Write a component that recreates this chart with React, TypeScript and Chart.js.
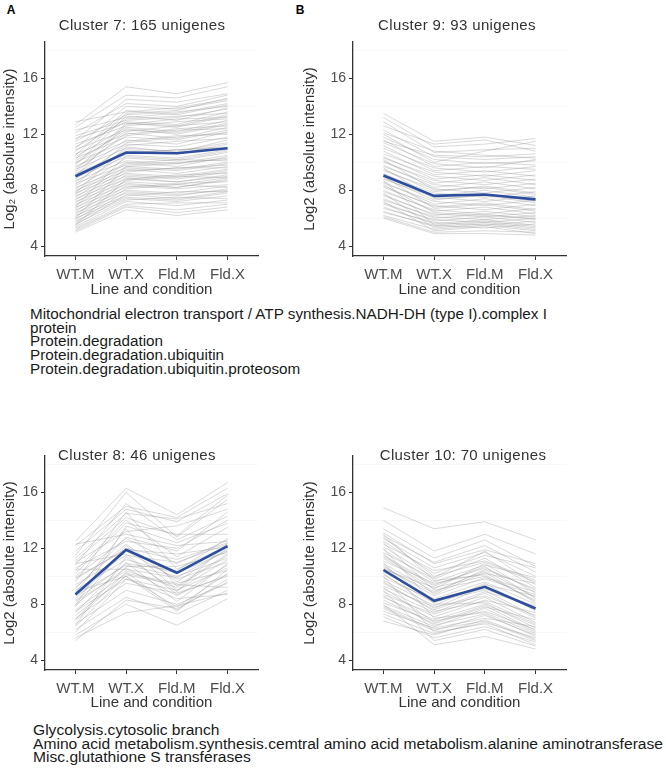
import React, { useEffect, useRef } from "react";
import { Chart, registerables } from "chart.js";

Chart.register(...registerables);

const FONT = '"Liberation Sans", Arial, sans-serif';

const categories = ["WT.M", "WT.X", "Fld.M", "Fld.X"];

const yTicksMajor = [4, 8, 12, 16];
const yTicksAll = [4, 6, 8, 10, 12, 14, 16, 18];

// Cluster 7 (panel A)
const cluster7Mean = [9.0, 10.7, 10.65, 11.0];
const cluster7Genes = [
  [12.9, 13.6, 13.9, 14.5], [12.7, 15.4, 14.9, 15.7], [12.5, 14.8, 14.6, 15.4], [12.3, 13.2, 13.5, 14.2],
  [12.1, 14.2, 14.0, 14.8], [11.9, 13.0, 13.2, 13.8], [11.7, 12.8, 12.5, 13.3], [11.5, 13.4, 13.6, 14.0],
  [11.3, 12.6, 12.9, 13.1], [11.1, 12.9, 12.7, 13.6], [10.9, 12.3, 12.1, 12.8], [10.8, 13.1, 13.3, 13.5],
  [10.6, 12.0, 12.4, 12.6], [10.4, 12.5, 12.2, 13.0], [10.3, 11.8, 11.6, 12.3], [10.1, 12.2, 12.6, 12.9],
  [10.0, 11.5, 11.9, 12.0], [9.9, 12.4, 12.0, 12.7], [9.7, 11.3, 11.1, 11.8], [9.6, 11.9, 12.3, 12.4],
  [9.5, 11.0, 10.8, 11.4], [9.3, 12.1, 11.7, 12.5], [9.2, 10.7, 10.9, 11.1], [9.1, 11.6, 11.3, 12.2],
  [8.9, 10.4, 10.2, 10.8], [8.8, 11.2, 11.5, 11.7], [8.7, 10.1, 9.9, 10.5], [8.6, 10.9, 10.6, 11.3],
  [8.5, 9.8, 10.0, 10.2], [8.3, 10.6, 10.9, 11.0], [8.2, 9.6, 9.4, 9.9], [8.1, 10.3, 10.1, 10.7],
  [8.0, 9.4, 9.6, 9.8], [7.9, 10.0, 9.7, 10.4], [7.8, 9.2, 9.0, 9.5], [7.7, 9.9, 10.2, 10.1],
  [7.6, 9.0, 8.8, 9.3], [7.5, 9.7, 9.5, 10.0], [7.4, 8.8, 9.1, 9.2], [7.3, 9.5, 9.2, 9.7],
  [7.2, 8.6, 8.4, 8.9], [7.1, 9.3, 9.6, 9.6], [7.0, 8.4, 8.2, 8.7], [6.9, 9.1, 8.9, 9.4],
  [6.8, 8.2, 8.5, 8.6], [6.7, 8.9, 8.6, 9.0], [6.6, 8.0, 7.8, 8.3], [6.5, 8.7, 9.0, 8.9],
  [6.4, 7.8, 7.6, 8.1], [6.3, 8.5, 8.2, 8.8], [6.2, 7.6, 7.9, 7.9], [6.1, 8.3, 8.1, 8.4],
  [6.0, 7.5, 7.3, 7.8], [5.9, 8.1, 8.4, 8.2], [5.8, 7.4, 7.2, 7.6], [5.7, 7.9, 7.7, 8.0],
  [5.6, 7.3, 7.5, 7.4], [5.5, 7.7, 7.4, 7.9], [5.4, 7.2, 6.9, 7.3], [5.3, 7.0, 7.1, 7.1],
  [5.2, 6.9, 6.6, 7.0], [5.1, 6.8, 6.4, 6.8], [5.0, 6.6, 6.2, 6.6], [11.0, 14.0, 13.8, 14.4],
  [10.5, 13.7, 13.4, 14.1], [9.8, 13.3, 13.0, 13.9], [9.0, 12.7, 13.1, 13.2], [8.4, 11.4, 11.8, 12.1],
  [7.8, 11.1, 10.7, 11.6], [6.8, 10.5, 10.3, 10.9], [6.0, 9.7, 9.9, 10.3], [5.5, 8.8, 8.6, 9.1],
  [10.2, 13.5, 13.7, 14.6], [9.4, 12.8, 12.6, 13.4], [11.6, 14.5, 14.3, 14.9],
];

// Cluster 9 (panel B)
const cluster9Mean = [9.05, 7.6, 7.7, 7.35];
const cluster9Genes = [
  [13.5, 11.5, 11.8, 11.2], [13.2, 11.1, 11.3, 11.7], [12.9, 10.7, 10.9, 11.0], [12.6, 11.3, 11.6, 10.8],
  [12.3, 10.4, 10.2, 10.4], [12.0, 10.0, 10.8, 11.5], [11.8, 10.2, 9.9, 10.1], [11.6, 9.7, 10.0, 9.8],
  [11.4, 9.9, 9.6, 10.2], [11.2, 9.4, 9.7, 9.5], [11.0, 9.6, 9.3, 9.7], [10.8, 9.1, 9.4, 9.0],
  [10.6, 9.3, 9.0, 9.4], [10.4, 8.8, 9.1, 8.7], [10.3, 9.0, 8.7, 9.1], [10.1, 8.5, 8.9, 8.4],
  [10.0, 8.7, 8.4, 8.8], [9.8, 8.2, 8.6, 8.1], [9.7, 8.4, 8.1, 8.5], [9.5, 7.9, 8.3, 7.8],
  [9.4, 8.1, 7.8, 8.2], [9.2, 7.6, 8.0, 7.5], [9.1, 7.8, 7.5, 7.9], [8.9, 7.3, 7.7, 7.2],
  [8.8, 7.5, 7.2, 7.6], [8.6, 7.0, 7.4, 6.9], [8.5, 7.2, 6.9, 7.3], [8.3, 6.8, 7.1, 6.6],
  [8.2, 6.9, 6.6, 7.0], [8.0, 6.5, 6.8, 6.3], [7.9, 6.6, 6.3, 6.7], [7.7, 6.2, 6.5, 6.1],
  [7.6, 6.3, 6.1, 6.4], [7.4, 6.0, 6.3, 5.9], [7.3, 6.1, 5.9, 6.2], [7.1, 5.8, 6.1, 5.7],
  [7.0, 5.9, 5.7, 6.0], [6.8, 5.6, 5.9, 5.5], [6.7, 5.7, 5.5, 5.8], [6.5, 5.4, 5.7, 5.3],
  [6.4, 5.5, 5.3, 5.6], [6.2, 5.2, 5.5, 5.1], [6.1, 5.0, 5.1, 5.0], [6.0, 4.9, 4.9, 4.8],
  [10.2, 8.0, 8.2, 7.7], [9.6, 7.4, 7.6, 7.1], [9.0, 6.7, 7.0, 6.5], [8.4, 6.4, 6.2, 6.0],
  [11.5, 10.5, 10.4, 10.6], [12.1, 10.8, 10.5, 10.3], [7.8, 5.3, 5.6, 5.2], [7.2, 5.1, 5.4, 4.9],
  [8.7, 5.5, 5.8, 5.4],
];

// Cluster 8 (panel C)
const cluster8Mean = [8.7, 11.9, 10.25, 12.15];
const cluster8Genes = [
  [12.5, 16.3, 14.4, 16.7], [12.2, 15.0, 14.2, 16.3], [11.8, 14.8, 13.9, 15.9], [11.5, 16.0, 12.8, 15.5],
  [11.3, 14.5, 14.1, 15.2], [11.0, 13.2, 13.6, 14.8], [10.8, 15.2, 12.6, 14.3], [10.6, 12.5, 12.0, 14.0],
  [10.4, 14.0, 11.4, 13.5], [10.2, 13.8, 13.0, 13.0], [10.0, 12.7, 10.9, 12.6], [9.8, 12.0, 11.2, 12.4],
  [9.6, 14.6, 10.5, 12.2], [9.4, 11.5, 11.0, 12.3], [9.2, 12.3, 9.6, 12.0], [9.0, 11.2, 10.2, 11.8],
  [8.8, 13.4, 9.3, 11.6], [8.6, 10.8, 10.0, 11.3], [8.4, 11.8, 9.8, 11.0], [8.2, 10.4, 9.2, 11.5],
  [8.0, 10.6, 8.6, 10.8], [7.8, 12.2, 9.0, 10.6], [7.6, 10.2, 9.5, 10.4], [7.4, 11.0, 8.2, 10.9],
  [7.2, 10.0, 7.8, 10.2], [7.0, 9.5, 8.8, 10.0], [6.8, 10.3, 7.6, 9.8], [6.6, 9.0, 8.0, 9.5],
  [6.4, 10.1, 9.4, 9.2], [6.2, 8.5, 7.3, 9.0], [6.0, 9.8, 8.4, 8.7], [5.8, 8.0, 6.5, 8.4],
  [5.6, 7.4, 7.9, 8.8], [5.4, 8.3, 7.7, 9.6], [12.3, 13.0, 12.2, 12.5], [11.1, 14.2, 12.9, 15.8],
  [10.5, 10.5, 9.9, 11.9], [9.9, 11.9, 11.6, 12.1], [9.1, 12.8, 11.8, 14.6], [8.3, 10.9, 10.4, 12.7],
  [7.5, 9.8, 9.0, 11.2], [6.9, 10.7, 10.7, 11.7], [7.9, 13.6, 12.4, 13.8], [8.9, 10.0, 7.5, 10.5],
  [6.5, 11.4, 8.9, 12.4], [10.9, 11.6, 8.7, 10.1],
];

// Cluster 10 (panel D)
const cluster10Mean = [10.45, 8.25, 9.25, 7.7];
const cluster10Genes = [
  [14.9, 13.4, 13.9, 12.6], [14.0, 11.8, 13.0, 11.6], [13.4, 11.3, 12.6, 10.7], [13.1, 10.9, 11.9, 10.9],
  [12.9, 11.0, 12.2, 10.3], [12.7, 10.6, 11.7, 10.0], [12.5, 10.2, 11.5, 10.6], [12.3, 10.4, 11.1, 9.7],
  [12.1, 9.9, 11.8, 9.4], [11.9, 9.6, 10.8, 9.9], [11.7, 9.8, 11.3, 9.2], [11.5, 9.4, 10.6, 9.0],
  [11.3, 9.1, 10.9, 8.8], [11.1, 9.5, 10.2, 9.5], [10.9, 8.9, 10.4, 8.5], [10.7, 8.6, 9.9, 8.9],
  [10.5, 9.2, 10.0, 8.3], [10.3, 8.4, 9.6, 8.0], [10.1, 8.1, 9.4, 8.6], [9.9, 8.3, 9.1, 7.8],
  [9.7, 7.9, 9.5, 7.5], [9.5, 7.6, 8.9, 7.9], [9.3, 7.8, 8.6, 7.2], [9.1, 7.4, 8.8, 7.0],
  [8.9, 7.1, 8.3, 7.4], [8.7, 7.3, 8.5, 6.7], [8.5, 6.9, 8.0, 6.5], [8.3, 6.6, 7.8, 6.9],
  [8.1, 6.8, 7.5, 6.2], [7.9, 6.4, 7.7, 6.0], [7.7, 6.1, 7.2, 5.8], [7.5, 6.3, 7.0, 6.4],
  [7.3, 5.9, 6.7, 5.6], [7.1, 5.6, 6.4, 5.3], [6.8, 5.8, 6.9, 5.5], [8.0, 5.1, 5.7, 4.8],
  [9.0, 5.4, 6.2, 5.0], [10.0, 6.0, 6.6, 5.1], [11.0, 7.0, 7.4, 5.9], [12.0, 8.0, 8.1, 6.3],
  [13.0, 9.7, 10.1, 8.2], [12.4, 9.0, 9.8, 8.7], [11.6, 8.7, 10.3, 8.1], [10.8, 8.2, 9.0, 7.1],
  [10.2, 7.7, 9.3, 7.6], [9.6, 7.5, 8.2, 6.6], [9.2, 6.7, 7.9, 6.1], [8.6, 6.5, 7.3, 5.7],
  [12.8, 10.0, 11.0, 9.6], [11.4, 9.3, 10.7, 8.4], [10.6, 8.8, 10.5, 9.1], [7.8, 6.2, 6.8, 5.4],
];

const clusterTitles = [
  "Cluster 7: 165 unigenes",
  "Cluster 9: 93 unigenes",
  "Cluster 8: 46 unigenes",
  "Cluster 10: 70 unigenes",
];

const yTitleA = "Log\u2082 (absolute intensity)";
const yTitleOther = "Log2 (absolute intensity)";
const xTitle = "Line and condition";

const topAnnotations = [
  "Mitochondrial electron transport / ATP synthesis.NADH-DH (type I).complex I",
  "protein",
  "Protein.degradation",
  "Protein.degradation.ubiquitin",
  "Protein.degradation.ubiquitin.proteosom",
];
const bottomAnnotations = [
  "Glycolysis.cytosolic branch",
  "Amino acid metabolism.synthesis.cemtral amino acid metabolism.alanine aminotransferase",
  "Misc.glutathione S transferases",
];

const Y_MIN = 3.3;
const Y_MAX = 18.6;

type Geo = {
  canvasLeft: number; canvasTop: number; canvasW: number; canvasH: number;
  plotLeft: number; plotTop: number; plotRight: number; plotBottom: number;
};

function Panel({ genes, mean, yTitle, geo }: { genes: number[][]; mean: number[]; yTitle: string; geo: Geo }) {
  const ref = useRef<HTMLCanvasElement | null>(null);
  useEffect(() => {
    if (!ref.current) return;
    const padTop = geo.plotTop - geo.canvasTop;
    const padRight = geo.canvasLeft + geo.canvasW - geo.plotRight;
    const yWidth = geo.plotLeft - geo.canvasLeft;
    const xHeight = geo.canvasTop + geo.canvasH - geo.plotBottom;
    const toPts = (arr: number[]) => arr.map((v, i) => ({ x: i + 1, y: v }));
    const datasets: any[] = [
      {
        data: toPts(mean),
        borderColor: "#2d4e9e",
        borderWidth: 2.6,
        pointRadius: 0,
        tension: 0,
      },
      ...genes.map((g) => ({
        data: toPts(g),
        borderColor: "rgba(150,150,150,0.36)",
        borderWidth: 1,
        pointRadius: 0,
        tension: 0,
      })),
    ];
    const chart = new Chart(ref.current, {
      type: "line",
      data: { datasets },
      options: {
        animation: false,
        responsive: false,
        maintainAspectRatio: false,
        events: [],
        layout: { padding: { left: 0, top: padTop, right: padRight, bottom: 0 } },
        plugins: { legend: { display: false }, tooltip: { enabled: false }, title: { display: false } },
        scales: {
          x: {
            type: "linear",
            min: 0.4,
            max: 4.6,
            afterBuildTicks: (s: any) => {
              s.ticks = categories.map((_, i) => ({ value: i + 1 }));
            },
            afterFit: (s: any) => {
              s.height = xHeight;
            },
            ticks: {
              autoSkip: false,
              maxRotation: 0,
              padding: 6,
              color: "#4d4d4d",
              font: { family: FONT, size: 15 },
              callback: (v: any) => categories[Math.round(v) - 1] ?? "",
            },
            grid: { drawOnChartArea: false, tickLength: 4, tickColor: "#333", tickWidth: 1 },
            border: { color: "#333", width: 1.3 },
            title: {
              display: true,
              text: xTitle,
              color: "#333",
              font: { family: FONT, size: 15 },
              padding: { top: 0, bottom: 1 },
            },
          },
          y: {
            type: "linear",
            min: Y_MIN,
            max: Y_MAX,
            afterBuildTicks: (s: any) => {
              s.ticks = yTicksAll.map((v) => ({ value: v }));
            },
            afterFit: (s: any) => {
              s.width = yWidth;
            },
            ticks: {
              padding: 3,
              color: "#4d4d4d",
              font: { family: FONT, size: 14 },
              callback: (v: any) => (yTicksMajor.includes(v) ? String(v) : ""),
            },
            grid: {
              tickLength: 4,
              tickWidth: 1,
              color: (c: any) => (c.tick && yTicksMajor.includes(c.tick.value) ? "rgba(0,0,0,0)" : "#f8f8f8"),
              tickColor: (c: any) => (c.tick && yTicksMajor.includes(c.tick.value) ? "#333" : "rgba(0,0,0,0)"),
            },
            border: { color: "#333", width: 1.3 },
            title: {
              display: true,
              text: yTitle,
              color: "#333",
              font: { family: FONT, size: 15 },
              padding: { top: 1, bottom: 0 },
            },
          },
        },
      } as any,
    });
    return () => chart.destroy();
  }, [genes, mean, yTitle, geo]);
  return (
    <canvas
      ref={ref}
      width={geo.canvasW}
      height={geo.canvasH}
      style={{ position: "absolute", left: geo.canvasLeft, top: geo.canvasTop, width: geo.canvasW, height: geo.canvasH }}
    />
  );
}

let measureCtx: CanvasRenderingContext2D | null = null;
function measure(text: string, font: string) {
  if (!measureCtx) measureCtx = document.createElement("canvas").getContext("2d");
  if (!measureCtx) return text.length * 6;
  measureCtx.font = font;
  return measureCtx.measureText(text).width;
}

function TextBlock({ lines, left, top, width, size, lh }: { lines: string[]; left: number; top: number; width: number; size: number; lh: number }) {
  const font = `${size}px ${FONT}`;
  const w = Math.max(...lines.map((l) => measure(l, font)));
  const sx = width / w;
  return (
    <div
      style={{
        position: "absolute",
        left,
        top,
        fontFamily: FONT,
        fontSize: size,
        lineHeight: lh + "px",
        whiteSpace: "pre",
        color: "#1a1a1a",
        transform: `scaleX(${sx})`,
        transformOrigin: "0 0",
      }}
    >
      {lines.map((l, i) => (
        <div key={i}>{l}</div>
      ))}
    </div>
  );
}

function Label({ text, cx, cy, size, bold, color, spacing }: { text: string; cx: number; cy: number; size: number; bold?: boolean; color?: string; spacing?: number }) {
  return (
    <div
      style={{
        position: "absolute",
        left: cx,
        top: cy - size * 0.6,
        transform: "translateX(-50%)",
        fontFamily: FONT,
        fontSize: size,
        lineHeight: size * 1.2 + "px",
        fontWeight: bold ? "bold" : "normal",
        letterSpacing: spacing ? spacing + "px" : undefined,
        whiteSpace: "pre",
        color: color ?? "#333",
      }}
    >
      {text}
    </div>
  );
}

const geoA: Geo = { canvasLeft: 0, canvasTop: 30, canvasW: 270, canvasH: 270, plotLeft: 45, plotTop: 42, plotRight: 258, plotBottom: 256 };
const geoB: Geo = { canvasLeft: 300, canvasTop: 30, canvasW: 278, canvasH: 270, plotLeft: 353, plotTop: 42, plotRight: 566, plotBottom: 256 };
const geoC: Geo = { canvasLeft: 0, canvasTop: 440, canvasW: 270, canvasH: 273, plotLeft: 45, plotTop: 456, plotRight: 258, plotBottom: 670 };
const geoD: Geo = { canvasLeft: 300, canvasTop: 440, canvasW: 278, canvasH: 273, plotLeft: 353, plotTop: 456, plotRight: 566, plotBottom: 670 };

export default function App() {
  return (
    <div style={{ position: "absolute", left: 0, top: 0, width: 666, height: 771, background: "#fff", overflow: "hidden" }}>
      <Panel genes={cluster7Genes} mean={cluster7Mean} yTitle={yTitleA} geo={geoA} />
      <Panel genes={cluster9Genes} mean={cluster9Mean} yTitle={yTitleOther} geo={geoB} />
      <Panel genes={cluster8Genes} mean={cluster8Mean} yTitle={yTitleOther} geo={geoC} />
      <Panel genes={cluster10Genes} mean={cluster10Mean} yTitle={yTitleOther} geo={geoD} />
      <Label text="A" cx={11} cy={10.5} size={12} bold color="#000" />
      <Label text="B" cx={300} cy={10.5} size={12} bold color="#000" />
      <Label text={clusterTitles[0]} cx={142} cy={25} size={15} spacing={0.35} />
      <Label text={clusterTitles[1]} cx={457} cy={25} size={15} spacing={0.35} />
      <Label text={clusterTitles[2]} cx={137} cy={455} size={15} spacing={0.35} />
      <Label text={clusterTitles[3]} cx={463} cy={455} size={15} spacing={0.35} />
      <TextBlock lines={topAnnotations} left={30} top={308} width={518} size={14} lh={13.7} />
      <TextBlock lines={bottomAnnotations} left={33} top={724} width={630} size={14} lh={13.7} />
    </div>
  );
}
